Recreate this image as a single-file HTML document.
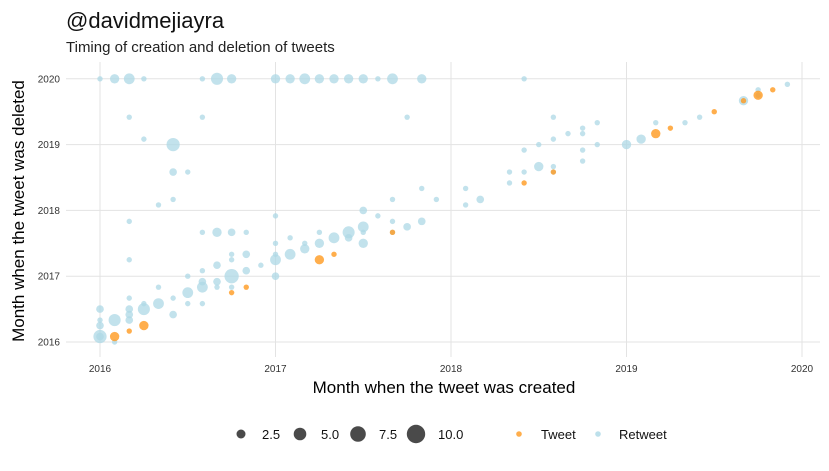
<!DOCTYPE html>
<html><head><meta charset="utf-8">
<style>
body{margin:0;background:#fff;font-family:"Liberation Sans",sans-serif;}
svg text{font-family:"Liberation Sans",sans-serif;}
</style></head>
<body>
<svg id="chart" width="829" height="466" xmlns="http://www.w3.org/2000/svg">
<text x="66" y="28" font-size="22" fill="#111">@davidmejiayra</text>
<text x="66" y="52" font-size="15" fill="#222">Timing of creation and deletion of tweets</text>
<g id="grid"></g>
<g id="ticks"></g>
<g id="points"></g>
<text x="444" y="393" font-size="17" text-anchor="middle" fill="#000">Month when the tweet was created</text>
<text transform="translate(24,211) rotate(-90)" font-size="17" text-anchor="middle" fill="#000">Month when the tweet was deleted</text>
<g font-size="13" fill="#111">
<circle cx="241" cy="434" r="4.5" fill="#4a4a4a"/>
<text x="262" y="439">2.5</text>
<circle cx="300" cy="434" r="6.3" fill="#4a4a4a"/>
<text x="321" y="439">5.0</text>
<circle cx="358" cy="434" r="7.8" fill="#4a4a4a"/>
<text x="379" y="439">7.5</text>
<circle cx="416" cy="434" r="9.2" fill="#4a4a4a"/>
<text x="438" y="439">10.0</text>
<circle cx="519" cy="434" r="2.8" fill="#ff9a1f" fill-opacity="0.8"/>
<text x="541" y="439">Tweet</text>
<circle cx="598" cy="434" r="2.8" fill="#add8e6" fill-opacity="0.8"/>
<text x="619" y="439">Retweet</text>
</g>
</svg>
<script>
// months since Jan 2016
const createdMonths = [0,1,2,3,7,8,9,12,13,14,15,16,17,18,19,20,22,29,
 2,7,21,3,5,5,6,22,4,5,20,23,18,19,12,2,20,22,18,21,
 7,8,9,10,15,17,18,20,13,16,17,12,14,15,18,14,9,10,13,12,
 2,9,12,8,11,7,10,6,9,12,7,8,4,7,8,9,6,2,5,4,6,7,0,2,3,3,5,2,1,2,0,0,0,1,0,
 25,25,26,28,28,29,29,30,30,31,31,31,31,32,33,33,33,33,34,34,36,37,38,40,41,44,45,45,47,
 15,16,10,9,3,2,1,20,29,31,38,39,42,44,45,46];
const deletedMonths = [48,48,48,48,48,48,48,48,48,48,48,48,48,48,48,48,48,48,
 41,41,41,37,36,31,31,28,25,26,26,26,24,23,23,22,22,22,21,21,
 20,20,20,20,20,20,20,20,19,19,19,18,18,18,18,17,16,16,16,16,
 15,15,15,14,14,13,13,12,12,12,11,11,10,10,10,10,9,8,8,7,7,7,6,6,6,7,5,5,4,4,4,3,1,0,1,
 28,25,26,31,29,35,31,36,32,41,37,32,31,38,39,38,35,33,40,36,36,37,40,40,41,44,46,45,47,
 15,16,10,9,3,2,1,20,29,31,38,39,42,44,45,46];
const counts = [1,3,4,1,1,5,3,3,3,4,3,3,3,3,1,4,3,1,
 1,1,1,1,6,2,1,1,1,1,1,1,2,1,1,1,1,2,4,2,
 1,3,2,1,1,5,1,1,1,4,2,1,1,3,3,3,1,2,4,1,
 1,1,4,2,1,1,2,1,7,2,2,2,1,4,1,1,4,1,1,4,1,1,2,2,5,1,2,2,5,2,1,2,6,1,2,
 1,1,2,1,1,1,1,1,3,1,1,1,1,1,1,1,1,1,1,1,3,3,1,1,1,3,1,1,1,
 3,1,1,1,3,1,3,1,1,1,3,1,1,1,3,1];
const types = counts.map((c,i)=> i>=122 ? 'tweet' : 'retweet');
const xTicks = ['2016','2017','2018','2019','2020'];
const yTicks = ['2016','2017','2018','2019','2020'];

const svg = document.getElementById('chart');
const NS='http://www.w3.org/2000/svg';
const X0=100, XPERYR=175.5, Y0=342, YPERYR=65.8;
const xScale = m => X0 + m*XPERYR/12;
const yScale = m => Y0 - m*YPERYR/12;
const rScale = n => 2.7*Math.sqrt(n);
const grid=document.getElementById('grid'), ticks=document.getElementById('ticks'), pts=document.getElementById('points');
xTicks.forEach((t,i)=>{
  const x=xScale(i*12);
  const l=document.createElementNS(NS,'line');
  
  
  l.setAttribute('x1',x);l.setAttribute('x2',x);l.setAttribute('y1',62);l.setAttribute('y2',357);
  l.setAttribute('stroke','#e3e3e3');l.setAttribute('stroke-width','1');
  grid.appendChild(l);
  const tx=document.createElementNS(NS,'text');
  
  
  tx.setAttribute('x',x);tx.setAttribute('y',372);tx.setAttribute('font-size','10');
  tx.setAttribute('text-anchor','middle');tx.setAttribute('fill','#333');tx.textContent=t;
  ticks.appendChild(tx);
});
yTicks.forEach((t,i)=>{
  const y=yScale(i*12);
  const l=document.createElementNS(NS,'line');
  
  
  l.setAttribute('x1',66);l.setAttribute('x2',820);l.setAttribute('y1',y);l.setAttribute('y2',y);
  l.setAttribute('stroke','#e3e3e3');l.setAttribute('stroke-width','1');
  grid.appendChild(l);
  const tx=document.createElementNS(NS,'text');
  
  
  tx.setAttribute('x',60);tx.setAttribute('y',y+3.5);tx.setAttribute('font-size','10');
  tx.setAttribute('text-anchor','end');tx.setAttribute('fill','#333');tx.textContent=t;
  ticks.appendChild(tx);
});
counts.forEach((n,i)=>{
  const c=document.createElementNS(NS,'circle');
  
  
  c.setAttribute('cx',xScale(createdMonths[i]));
  c.setAttribute('cy',yScale(deletedMonths[i]));
  c.setAttribute('r',rScale(n));
  c.setAttribute('fill', types[i]==='tweet' ? '#ff9a1f' : '#add8e6');
  c.setAttribute('fill-opacity', types[i]==='tweet' ? '0.8' : '0.75');
  pts.appendChild(c);
});
</script>
</body></html>
